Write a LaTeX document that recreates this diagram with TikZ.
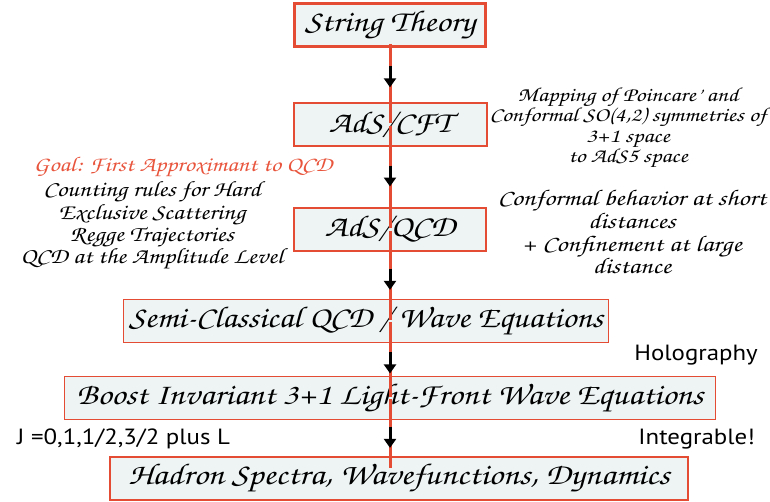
\documentclass[tikz,border=0pt]{standalone}
\usepackage[T1]{fontenc}
\usepackage{fontspec}
\setsansfont{PT Sans}
\usepackage{graphicx}
\usepackage{tikz}
\usetikzlibrary{arrows.meta,positioning,calc,decorations.markings}
\definecolor{boxred}{RGB}{228,76,52}
\definecolor{boxfill}{RGB}{238,244,244}
\definecolor{goalred}{RGB}{232,84,60}
\newcommand\hand{\fontencoding{T1}\fontfamily{pzc}\fontseries{mb}\fontshape{it}\selectfont}
\newcommand\widen[2][1.18]{\scalebox{#1}[1]{#2}}
\newcommand\lines[1]{\begin{tabular}{@{}c@{}}#1\end{tabular}}

\tikzset{
  stagebox/.style={draw=boxred, line width=2pt, fill=boxfill, minimum height=43pt,
    inner sep=0pt, font=\hand\fontsize{30}{32}\selectfont},
  sidenote/.style={inner sep=0pt, font=\hand\fontsize{#1}{#1}\selectfont},
  sansnote/.style={inner sep=0pt, font=\sffamily\fontsize{22}{22}\selectfont},
  redline/.style={boxred, line width=3pt},
  flowarrow/.style={redline, postaction={decorate}, decoration={markings,
    mark=at position #1 with {\draw[black, line width=3pt, shorten <=0pt, shorten >=0pt,
      -{Triangle[width=12pt,length=9pt]}] (-11pt,0) -- (10pt,0);}}}
}

\begin{document}
\begin{tikzpicture}[x=1pt,y=-1pt]
  \useasboundingbox (0,0) rectangle (770,501);

  % Stages
  \node[stagebox, minimum width=191pt, line width=2.5pt] (st) at (390,25) {\widen{String Theory}};
  \node[stagebox, minimum width=193pt] (cft) at (390,124) {\widen{AdS/CFT}};
  \node[stagebox, minimum width=192pt] (qcd) at (390,229) {\widen{AdS/QCD}};
  \node[stagebox, minimum width=485pt, line width=1.5pt] (sc) at (366,321) {\widen[1.15]{Semi-Classical QCD / Wave Equations}};
  \node[stagebox, minimum width=651pt, line width=1.5pt] (bo) at (390,398) {\widen[1.16]{Boost Invariant 3+1 Light-Front Wave Equations}};
  \node[stagebox, minimum width=578pt] (hs) at (399,478) {\widen{Hadron Spectra, Wavefunctions, Dynamics}};

  % Connectors
  \draw[flowarrow=0.55, shorten <=-4pt, shorten >=-21pt] (st.south) -- (cft.north);
  \draw[flowarrow=0.5, shorten <=-21pt, shorten >=-21pt] (cft.south) -- (qcd.north);
  \draw[flowarrow=0.6, shorten <=-21pt, shorten >=-21pt] (qcd.south) -- (qcd.south |- sc.north);
  \draw[flowarrow=0.62, shorten <=-21pt, shorten >=-21pt] (qcd.south |- sc.south) -- (qcd.south |- bo.north);
  \draw[flowarrow=0.5, shorten <=-21pt, shorten >=-12pt] (bo.south) -- (bo.south |- hs.north);

  % Notes
  \node[sidenote=21, text=goalred] (goal) at (183,167) {\widen[1.2]{Goal: First Approximant to QCD}};
  \node[sidenote=22] (rules) at (152,226) {\widen[1.17]{\lines{Counting rules for Hard\\Exclusive Scattering\\Regge Trajectories\\QCD at the Amplitude Level}}};
  \node[sidenote=20] (map) at (628,128) {\widen[1.2]{\lines{Mapping of Poincare' and\\Conformal SO(4,2) symmetries of\\3+1 space\\to AdS5 space}}};
  \node[sidenote=22.5] (conf) at (632,235) {\widen[1.21]{\lines{Conformal behavior at short\\distances\\+ Confinement at large\\distance}}};
  \node[sansnote, anchor=east] (holo) at (758,355) {\widen[1.13]{Holography}};
  \node[sansnote, anchor=west] (spin) at (17,439) {\widen[1.13]{J =0,1,1/2,3/2 plus L}};
  \node[sansnote, anchor=east] (integ) at (755,439) {\widen[1.13]{Integrable!}};
\end{tikzpicture}
\end{document}
